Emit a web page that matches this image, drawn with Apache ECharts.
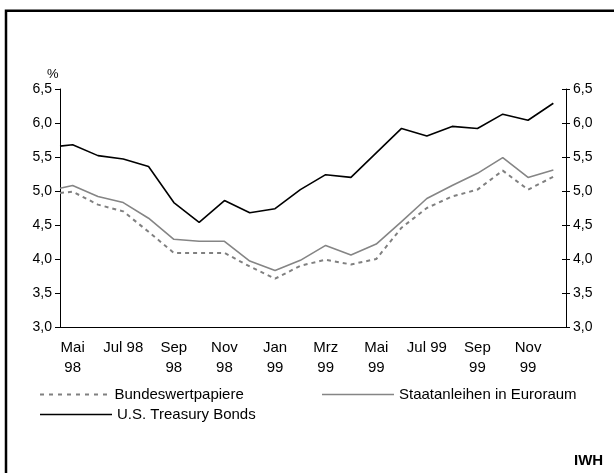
<!DOCTYPE html>
<html>
<head>
<meta charset="utf-8">
<script src="https://cdn.jsdelivr.net/npm/echarts@6/dist/echarts.min.js"></script>
<style>
html,body{margin:0;padding:0;background:#fff;}
#chart{width:614px;height:473px;}
</style>
</head>
<body>
<div id="chart"></div>
<script>
// Monate Mai 98 - Dez 99
var months = ['Mai\n98','Jun 98','Jul 98','Aug 98','Sep\n98','Okt 98','Nov\n98','Dez 98',
              'Jan\n99','Feb 99','Mrz\n99','Apr 99','Mai\n99','Jun 99','Jul 99','Aug 99',
              'Sep\n99','Okt 99','Nov\n99','Dez 99'];

// Renditen in %
var bundes = [4.99,4.80,4.70,4.40,4.09,4.09,4.09,3.89,3.71,3.90,3.99,3.92,4.00,4.46,4.75,4.92,5.02,5.30,5.02,5.21];
var staat  = [5.08,4.92,4.83,4.60,4.29,4.26,4.26,3.97,3.83,3.98,4.20,4.06,4.22,4.55,4.89,5.08,5.26,5.49,5.20,5.31];
var usbonds = [5.68,5.52,5.47,5.36,4.83,4.54,4.86,4.68,4.74,5.02,5.24,5.20,5.56,5.92,5.81,5.95,5.92,6.13,6.04,6.29];
// Wert am linken Achsenrand
var startVals = {bundes:4.97, staat:5.04, us:5.66};

var seriesNames = ['Bundeswertpapiere','Staatanleihen in Euroraum','U.S. Treasury Bonds'];

function toPoints(arr, first){
    var pts = [[0, first]];
    for(var i=0;i<arr.length;i++){
        pts.push([i+0.5, arr[i]]);
    }
    return pts;
}

var fontFam = '"Liberation Sans", Arial, sans-serif';
var myChart = echarts.init(document.getElementById('chart'));

function fmt(v){ return v.toFixed(1).replace('.',','); }

// legend icons (gestrichelt / durchgezogen)
var dashIcon = 'path://';
for(var d=0; d<8; d++){
    dashIcon += 'M' + (d*9) + ' 0h4v2h-4z';
}
var solidIcon = 'path://M0 0h72v1.5h-72z';

function legendFor(name, icon, left, top, h){
    return {
        data: [{ name: name, icon: icon }],
        left: left,
        top: top,
        itemWidth: 72,
        itemHeight: h,
        itemGap: 0,
        padding: 0,
        textStyle: { color: '#000', fontFamily: fontFam, fontSize: 15 }
    };
}

var option = {
    backgroundColor: '#fff',
    animation: false,
    grid: { left: 60, right: 48, top: 89, bottom: 146 },
    xAxis: [
        {
            type: 'category',
            data: months,
            boundaryGap: true,
            axisLine: { lineStyle: { color: '#000', width: 1 } },
            axisTick: { interval: 1, length: 4, lineStyle: { color: '#000' } },
            axisLabel: {
                interval: 1,
                margin: 11,
                color: '#000',
                fontFamily: fontFam,
                fontSize: 15,
                lineHeight: 20
            },
            splitLine: { show: false }
        },
        {
            type: 'value',
            min: 0,
            max: 20,
            show: false
        }
    ],
    yAxis: [
        {
            type: 'value', position: 'left',
            min: 3, max: 6.5, interval: 0.5,
            axisLine: { show: true, lineStyle: { color: '#000', width: 1 } },
            axisTick: { show: true, length: 5, lineStyle: { color: '#000' } },
            axisLabel: { margin: 8, color: '#000', fontFamily: fontFam, fontSize: 14, formatter: fmt },
            splitLine: { show: false }
        },
        {
            type: 'value', position: 'right',
            min: 3, max: 6.5, interval: 0.5,
            axisLine: { show: true, lineStyle: { color: '#000', width: 1 } },
            axisTick: { show: true, length: 4, lineStyle: { color: '#000' } },
            axisLabel: { margin: 7, color: '#000', fontFamily: fontFam, fontSize: 14, formatter: fmt },
            splitLine: { show: false }
        },
        {
            type: 'value', position: 'right',
            min: 3, max: 6.5, interval: 0.5,
            axisLine: { show: false },
            axisTick: { show: true, inside: true, length: 4, lineStyle: { color: '#000' } },
            axisLabel: { show: false },
            splitLine: { show: false }
        }
    ],
    legend: [
        legendFor(seriesNames[0], dashIcon, 40, 387, 2),
        legendFor(seriesNames[1], solidIcon, 322, 387, 1.5),
        legendFor(seriesNames[2], solidIcon, 40, 407, 1.5)
    ],
    series: [
        {
            name: seriesNames[0], type: 'line', xAxisIndex: 1, yAxisIndex: 0,
            data: toPoints(bundes, startVals.bundes),
            symbol: 'none',
            lineStyle: { color: '#808080', width: 2, type: [4, 4] },
            itemStyle: { color: '#808080' }
        },
        {
            name: seriesNames[1], type: 'line', xAxisIndex: 1, yAxisIndex: 0,
            data: toPoints(staat, startVals.staat),
            symbol: 'none',
            lineStyle: { color: '#858585', width: 1.6 },
            itemStyle: { color: '#858585' }
        },
        {
            name: seriesNames[2], type: 'line', xAxisIndex: 1, yAxisIndex: 0,
            data: toPoints(usbonds, startVals.us),
            symbol: 'none',
            lineStyle: { color: '#000', width: 1.6 },
            itemStyle: { color: '#000' }
        }
    ],
    graphic: [
        {
            type: 'rect',
            shape: { x: 6, y: 10.7, width: 700, height: 500 },
            style: { fill: 'none', stroke: '#000', lineWidth: 2.5 },
            silent: true
        },
        {
            type: 'text', left: 47, top: 68,
            style: { text: '%', fill: '#000', font: '13px ' + fontFam }
        },
        {
            type: 'text', left: 574, top: 453,
            style: { text: 'IWH', fill: '#000', font: 'bold 15px ' + fontFam }
        }
    ]
};

myChart.setOption(option);
window.onresize = function(){
    myChart.resize();
};
</script>
</body>
</html>
